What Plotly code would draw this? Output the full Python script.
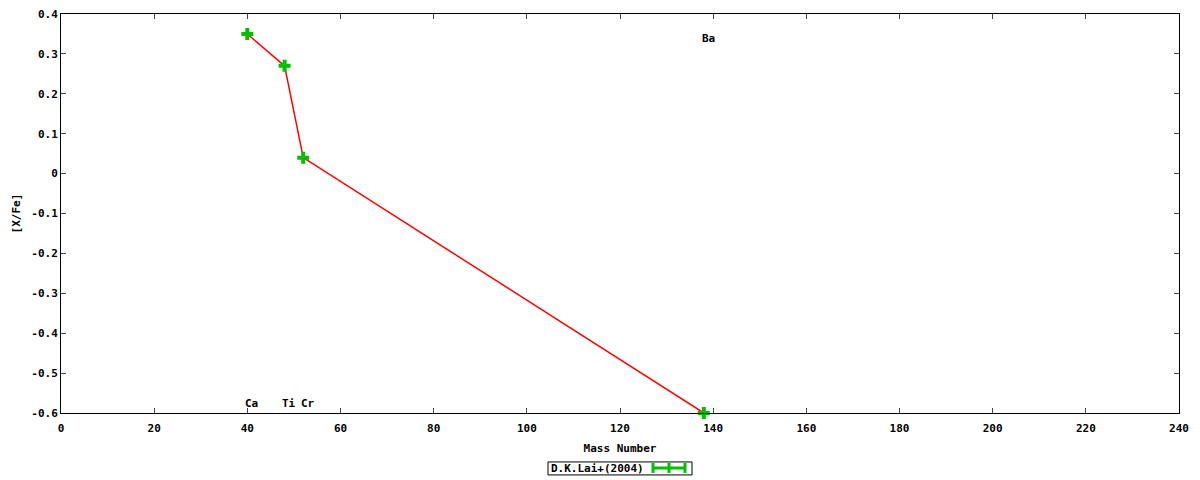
import plotly.graph_objects as go

# Data
elements = ["Ca", "Ti", "Cr", "Ba"]
mass = [40, 48, 52, 138]
xfe = [0.35, 0.27, 0.04, -0.6]
label_x = [41, 49, 53, 139]
label_y = [-0.575, -0.575, -0.575, 0.338]
series_name = "D.K.Lai+(2004)"

x_ticks = list(range(0, 241, 20))
y_tickvals = [0.4, 0.3, 0.2, 0.1, 0.0, -0.1, -0.2, -0.3, -0.4, -0.5, -0.6]
y_ticktext = ["0.4", "0.3", "0.2", "0.1", "0", "-0.1", "-0.2", "-0.3", "-0.4", "-0.5", "-0.6"]

FONT = dict(family="DejaVu Sans Mono", size=11, color="black", weight="bold")
GREEN = "#00c000"
RED = "#ff0000"

fig = go.Figure()
fig.add_trace(go.Scatter(x=mass, y=xfe, mode="lines",
                         line=dict(color=RED, width=1.5), showlegend=False,
                         cliponaxis=False))
fig.add_trace(go.Scatter(x=mass, y=xfe, mode="markers",
                         marker=dict(symbol="cross", size=10, color=GREEN,
                                     line=dict(width=0)),
                         name=series_name, showlegend=False, cliponaxis=False))

for el, lx, ly in zip(elements, label_x, label_y):
    fig.add_annotation(x=lx, y=ly, text=el, showarrow=False, font=FONT,
                       xanchor="center", yanchor="middle")

# Manual gnuplot-style legend (pixel positions converted to paper coords)
L0, L1, T0, T1 = 548, 692, 462, 475
def fx(x):
    return (x - 61) / (1179 - 61)
def fy(y):
    return (413 - y) / (413 - 13.5)
fig.add_shape(type="rect", xref="paper", yref="paper",
              x0=fx(L0), x1=fx(L1), y0=fy(T1), y1=fy(T0),
              line=dict(color="black", width=1), fillcolor="white")
fig.add_annotation(xref="paper", yref="paper", x=fx(549), y=fy(468.5),
                   text=series_name, showarrow=False, font=FONT,
                   xanchor="left", yanchor="middle")
fig.add_shape(type="line", xref="paper", yref="paper", x0=fx(652), x1=fx(686),
              y0=fy(468), y1=fy(468), line=dict(color=GREEN, width=3))
for tx in [653, 669, 685]:
    fig.add_shape(type="line", xref="paper", yref="paper", x0=fx(tx), x1=fx(tx),
                  y0=fy(463), y1=fy(473), line=dict(color=GREEN, width=3))

fig.update_layout(
    width=1200, height=480,
    margin=dict(l=61, r=21, t=13.5, b=67, autoexpand=False),
    plot_bgcolor="white", paper_bgcolor="white",
    font=FONT,
)
fig.update_xaxes(range=[0, 240], tickvals=x_ticks, ticks="inside", ticklen=5,
                 mirror="ticks", showline=True, linecolor="black", linewidth=1,
                 showgrid=False, zeroline=False, tickfont=FONT, automargin=False,
                 ticklabelstandoff=5,
                 title=dict(text="Mass Number", font=FONT, standoff=10))
fig.update_yaxes(range=[-0.6, 0.4], tickvals=y_tickvals, ticktext=y_ticktext,
                 ticks="inside", ticklen=5, mirror="ticks", showline=True,
                 linecolor="black", linewidth=1, showgrid=False, zeroline=False,
                 tickfont=FONT, automargin=False,
                 title=dict(text="[X/Fe]", font=FONT, standoff=8))

fig.write_html("out.html", config={"displayModeBar": False},
               post_script="document.body.style.margin='0';document.body.style.overflow='hidden';")
